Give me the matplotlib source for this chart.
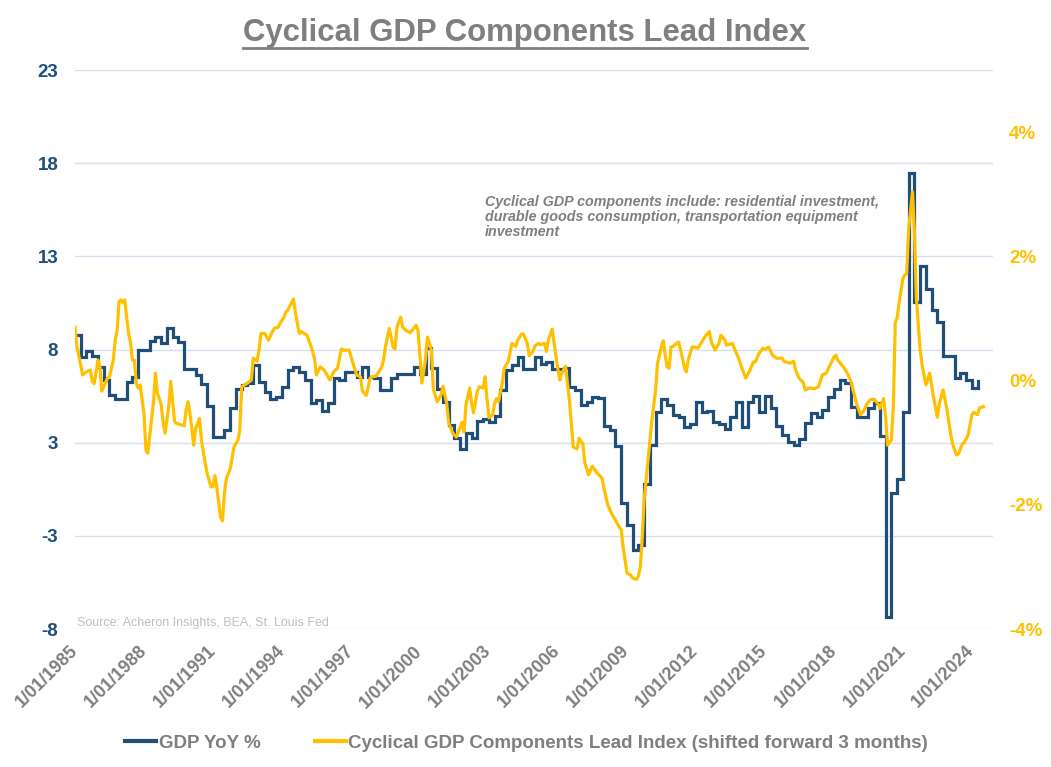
import numpy as np
import pandas as pd
import matplotlib
matplotlib.use("Agg")
import matplotlib.pyplot as plt
import matplotlib.dates as mdates
from matplotlib.lines import Line2D

plt.rcParams['font.family'] = ['Liberation Sans', 'DejaVu Sans']

# ---------------- data ----------------
title_text = "Cyclical GDP Components Lead Index"
note_text = ("Cyclical GDP components include: residential investment,\n"
             "durable goods consumption, transportation equipment\n"
             "investment")
source_text = "Source: Acheron Insights, BEA, St. Louis Fed"
gdp_label = "GDP YoY %"
lead_label = "Cyclical GDP Components Lead Index (shifted forward 3 months)"

gdp_start = "1985-01-01"   # quarterly, first quarter
gdp_yoy = [
    8.28, 7.1, 7.4, 7.15, 6.56, 5.86, 5.06, 4.85, 4.85, 5.76,
    6.0, 7.5, 7.5, 7.96, 8.17, 7.85, 8.66, 8.17, 7.9, 6.46,
    6.46, 6.13, 5.65, 4.47, 2.8, 2.8, 3.2, 4.36, 5.4, 5.6,
    5.7, 6.67, 5.76, 5.2, 4.85, 4.95, 5.5, 6.4, 6.56, 6.3,
    5.87, 4.63, 4.8, 4.2, 4.63, 5.97, 5.87, 6.3, 6.3, 6.0,
    6.56, 6.0, 5.97, 5.33, 5.33, 5.97, 6.2, 6.2, 6.2, 6.56,
    6.2, 7.6, 6.5, 5.4, 4.68, 3.45, 2.75, 2.16, 3.0, 2.75,
    3.66, 3.77, 3.6, 3.93, 5.33, 6.4, 6.67, 7.1, 6.46, 6.46,
    7.1, 6.72, 6.83, 6.46, 6.46, 6.5, 5.5, 5.33, 4.52, 4.68,
    4.95, 4.9, 3.4, 3.2, 2.32, -0.74, -1.92, -3.26, -3.0, 0.28,
    2.38, 4.15, 4.85, 4.52, 3.99, 3.88, 3.34, 3.5, 4.68, 4.15,
    4.2, 3.6, 3.5, 3.24, 3.88, 4.7, 3.34, 4.7, 5.0, 4.15,
    5.0, 4.36, 3.4, 2.9, 2.54, 2.38, 2.7, 3.56, 4.1, 3.88,
    4.25, 4.95, 5.38, 5.87, 5.7, 4.4, 3.88, 3.9, 4.36, 4.63,
    2.86, -6.86, -0.2, 0.55, 4.15, 16.98, 10.05, 12.0, 10.75, 9.6,
    9.0, 7.15, 7.15, 5.97, 6.24, 5.87, 5.43, 5.8,
]

# lead index: months elapsed since Jan 1985, value in %
lead_month = [
    0, 1, 3, 4, 6, 8, 9, 10, 12, 13, 14, 17, 18, 20, 21, 22, 23, 24, 25, 26,
    28, 29, 30, 31, 32, 33, 34, 36, 37, 38, 40, 41, 42, 43, 45, 46, 47, 49, 50, 52,
    53, 57, 58, 59, 60, 62, 63, 65, 66, 68, 69, 71, 72, 73, 74, 76, 77, 78, 79, 81,
    83, 85, 86, 87, 90, 92, 93, 95, 96, 97, 99, 101, 103, 104, 106, 107, 109, 110, 111, 114,
    115, 117, 118, 121, 123, 125, 126, 128, 130, 133, 135, 137, 139, 140, 143, 145, 147, 149, 150, 152,
    154, 155, 157, 160, 161, 162, 164, 166, 167, 168, 170, 171, 173, 175, 176, 178, 179, 181, 183, 184,
    186, 187, 189, 190, 191, 192, 194, 195, 197, 199, 200, 202, 203, 204, 206, 207, 208, 210, 211, 213,
    214, 215, 216, 218, 219, 220, 221, 223, 224, 226, 228, 230, 231, 233, 234, 236, 237, 239, 240, 242,
    243, 245, 246, 247, 249, 250, 252, 253, 254, 256, 258, 259, 260, 262, 263, 265, 266, 268, 269, 270,
    272, 274, 275, 276, 278, 280, 282, 284, 285, 286, 288, 290, 291, 293, 294, 295, 296, 297, 299, 301,
    303, 304, 306, 307, 308, 309, 310, 311, 312, 314, 315, 316, 318, 319, 320, 322, 323, 325, 327, 329,
    331, 332, 334, 336, 337, 339, 340, 343, 344, 346, 348, 350, 352, 354, 355, 357, 359, 360, 362, 364,
    366, 369, 370, 373, 375, 376, 378, 380, 381, 383, 386, 388, 390, 392, 394, 396, 397, 398, 401, 403,
    405, 406, 408, 410, 412, 413, 415, 417, 419, 420, 422, 423, 424, 426, 427, 428, 429, 430, 432, 433,
    434, 435, 437, 438, 439, 441, 442, 444, 446, 448, 450, 451, 453, 455, 457, 458, 460, 461, 463, 464,
    466, 468, 469, 471, 472, 474,
]
lead_value = [
    0.86, 0.54, 0.25, 0.09, 0.14, 0.17, -0.01, -0.05, 0.33, 0.22, -0.17, 0.04, 0.06, 0.33, 0.65, 0.81, 1.27, 1.3, 1.25, 1.3,
    0.76, 0.62, 0.33, 0.33, -0.04, -0.12, -0.07, -0.53, -1.12, -1.17, -0.63, -0.34, 0.12, -0.2, -0.39, -0.69, -0.85, -0.39, -0.01, -0.66,
    -0.69, -0.73, -0.47, -0.34, -0.53, -1.04, -0.77, -0.61, -0.96, -1.34, -1.5, -1.71, -1.71, -1.53, -1.71, -2.2, -2.26, -1.82, -1.58, -1.42,
    -1.07, -0.96, -0.8, -0.1, -0.04, 0.01, 0.36, 0.31, 0.49, 0.76, 0.76, 0.65, 0.79, 0.84, 0.86, 0.92, 1.02, 1.1, 1.13, 1.31,
    1.1, 0.76, 0.79, 0.73, 0.57, 0.36, 0.09, 0.22, 0.17, 0.01, 0.14, 0.2, 0.51, 0.49, 0.49, 0.28, 0.09, 0.06, -0.17, -0.24,
    0.04, 0.06, 0.07, 0.21, 0.33, 0.54, 0.84, 0.54, 0.51, 0.86, 1.02, 0.86, 0.8, 0.77, 0.81, 0.89, 0.81, -0.04, 0.36, 0.7,
    0.49, -0.14, -0.34, -0.29, -0.23, -0.09, -0.37, -0.68, -0.84, -0.91, -0.83, -0.67, -0.83, -0.39, -0.12, -0.37, -0.52, -0.17, -0.1, -0.12,
    0.06, -0.3, -0.6, -0.55, -0.37, -0.29, -0.34, -0.04, 0.2, 0.3, 0.6, 0.55, 0.65, 0.75, 0.75, 0.6, 0.4, 0.47, 0.56, 0.6,
    0.58, 0.6, 0.47, 0.65, 0.83, 0.6, 0.17, 0.01, 0.12, 0.23, -0.31, -0.68, -1.07, -1.1, -0.93, -1.02, -1.31, -1.52, -1.44, -1.38,
    -1.47, -1.54, -1.57, -1.73, -2.0, -2.14, -2.25, -2.36, -2.4, -2.68, -3.1, -3.13, -3.18, -3.2, -3.15, -3.0, -2.52, -1.92, -1.28, -0.64,
    -0.15, 0.28, 0.54, 0.64, 0.41, 0.22, 0.2, 0.54, 0.55, 0.6, 0.62, 0.5, 0.22, 0.14, 0.33, 0.54, 0.54, 0.52, 0.62, 0.72,
    0.79, 0.62, 0.49, 0.6, 0.73, 0.66, 0.57, 0.6, 0.52, 0.38, 0.2, 0.04, 0.15, 0.3, 0.3, 0.44, 0.52, 0.5, 0.54, 0.41,
    0.36, 0.36, 0.31, 0.28, 0.31, 0.17, 0.03, -0.03, -0.15, -0.12, -0.13, -0.1, 0.09, 0.12, 0.25, 0.38, 0.41, 0.33, 0.22, 0.12,
    -0.02, -0.15, -0.39, -0.55, -0.47, -0.39, -0.31, -0.3, -0.37, -0.45, -0.29, -0.59, -1.04, -0.96, -0.42, 0.93, 1.01, 1.25, 1.65, 1.7,
    1.72, 2.43, 3.04, 2.43, 1.35, 0.49, 0.25, -0.07, 0.12, -0.26, -0.59, -0.37, -0.15, -0.47, -0.88, -1.02, -1.2, -1.18, -1.02, -1.0,
    -0.88, -0.55, -0.51, -0.55, -0.44, -0.42,
]

left_ticks = [-7.5, -2.5, 2.5, 7.5, 12.5, 17.5, 22.5]
left_ticklabels = ["-8", "-3", "3", "8", "13", "18", "23"]
right_ticks = [-4, -2, 0, 2, 4]
right_ticklabels = ["-4%", "-2%", "0%", "2%", "4%"]
tick_years = list(range(1985, 2025, 3))

# ---------------- styling ----------------
BLUE = "#1F4E79"
GOLD = "#FFC000"
GREY = "#7F7F7F"
GRID = "#D3E0EE"

gdp_dates = pd.date_range(gdp_start, periods=len(gdp_yoy), freq="QS")
base = pd.Timestamp("1985-01-01")
lead_dates = [base + pd.DateOffset(months=int(m)) for m in lead_month]

fig = plt.figure(figsize=(10.51, 7.67), dpi=100)
ax = fig.add_axes([0.0714, 0.1799, 0.8734, 0.7288])
ax2 = ax.twinx()

ax.plot(gdp_dates, gdp_yoy, color=BLUE, lw=2.3, drawstyle="steps-post",
        solid_joinstyle="miter")
ax2.plot(lead_dates, lead_value, color=GOLD, lw=2.3, solid_joinstyle="round")

ax.set_ylim(-7.5, 22.5)
ax.set_yticks(left_ticks)
ax.set_yticklabels(left_ticklabels)
ax2.set_ylim(-4, 5)
ax2.set_yticks(right_ticks)
ax2.set_yticklabels(right_ticklabels)

ax.set_xlim(pd.Timestamp("1985-01-01"), pd.Timestamp("2024-12-01"))
xt = [pd.Timestamp(f"{y}-01-01") for y in tick_years]
ax.set_xticks(xt)
ax.set_xticklabels([f"1/01/{y}" for y in tick_years])

ax.grid(axis="y", color=GRID, lw=1.0)
ax.set_axisbelow(True)
for a in (ax, ax2):
    for s in a.spines.values():
        s.set_visible(False)
    a.tick_params(length=0)

ax.tick_params(axis="y", labelsize=13.5, labelcolor=BLUE, pad=12)
for t in ax.get_yticklabels():
    t.set_fontweight("bold")
ax2.tick_params(axis="y", labelsize=13.5, labelcolor=GOLD, pad=11.5)
for t in ax2.get_yticklabels():
    t.set_fontweight("bold")
ax.tick_params(axis="x", labelsize=13, labelcolor=GREY, pad=14)
for t in ax.get_xticklabels():
    t.set_fontweight("bold")
    t.set_rotation(45)
    t.set_ha("right")
    t.set_va("center")
    t.set_rotation_mode("anchor")

title = fig.text(0.4995, 1 - 33 / 767, title_text, ha="center", va="center",
                 fontsize=22.4, fontweight="bold", color=GREY)

fig.text(485 / 1051, 1 - 195 / 767, note_text, ha="left", va="top",
         fontsize=10.3, fontstyle="italic", fontweight="bold", color=GREY,
         linespacing=1.1)

fig.text(77 / 1051, 1 - 626 / 767, source_text, ha="left", va="baseline",
         fontsize=9, color="#BFBFBF")

handles = [Line2D([], [], color=BLUE, lw=3), Line2D([], [], color=GOLD, lw=3)]
leg = fig.legend(handles, [gdp_label, lead_label], loc="center",
                 bbox_to_anchor=(0.501, 1 - 743 / 767), ncol=2, frameon=False,
                 prop={"size": 13.5, "weight": "bold"}, handlelength=1.65,
                 handletextpad=0.15, columnspacing=2.9)
for t in leg.get_texts():
    t.set_color(GREY)

# underline title
fig.canvas.draw()
bb = title.get_window_extent().transformed(fig.transFigure.inverted())
uy = 1 - 47.5 / 767
fig.add_artist(Line2D([bb.x0, bb.x1], [uy, uy], transform=fig.transFigure,
                      color=GREY, lw=2.0))

fig.savefig("out.png", dpi=100)
